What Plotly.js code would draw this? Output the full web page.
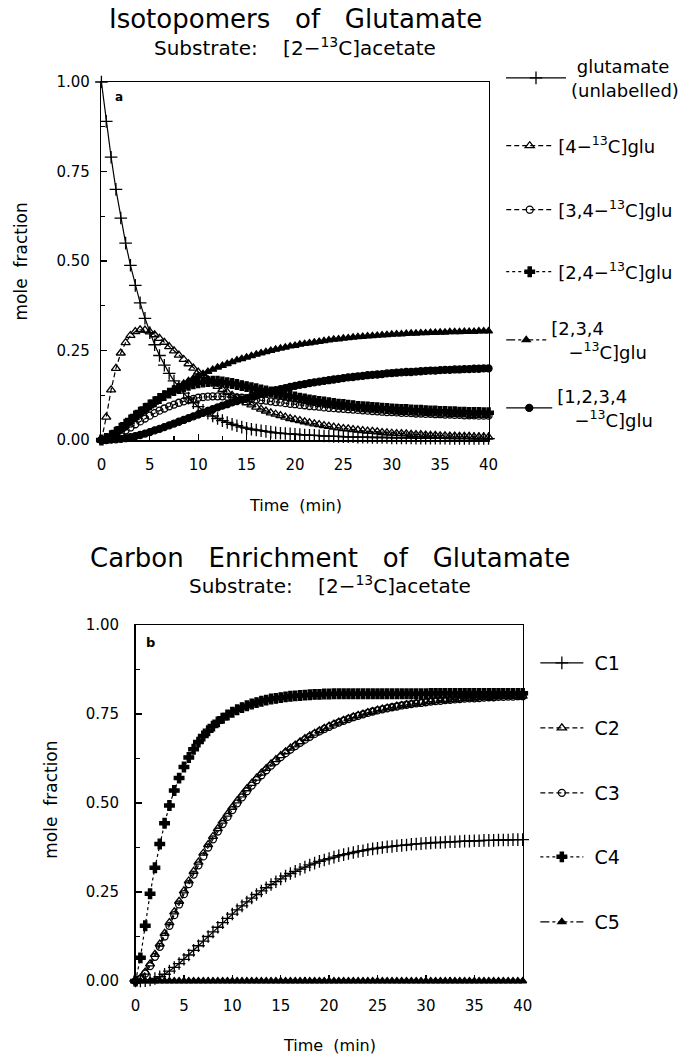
<!DOCTYPE html>
<html>
<head>
<meta charset="utf-8">
<script src="https://cdn.plot.ly/plotly-3.0.1.min.js"></script>
<style>
html,body{margin:0;padding:0;background:#fff;}
#plot{width:684px;height:1059px;}
</style>
</head>
<body>
<div id="plot"></div>
<script>
// ---------- DATA ----------
const timeMin = [0,0.5,1,1.5,2,2.5,3,3.5,4,4.5,5,5.5,6,6.5,7,7.5,8,8.5,9,9.5,10,10.5,11,11.5,12,12.5,13,13.5,14,14.5,15,15.5,16,16.5,17,17.5,18,18.5,19,19.5,20,20.5,21,21.5,22,22.5,23,23.5,24,24.5,25,25.5,26,26.5,27,27.5,28,28.5,29,29.5,30,30.5,31,31.5,32,32.5,33,33.5,34,34.5,35,35.5,36,36.5,37,37.5,38,38.5,39,39.5,40];

// Panel a: isotopomers (mole fraction)
const gluUnlabelled = [1.000,0.890,0.790,0.700,0.620,0.550,0.488,0.432,0.383,0.340,0.300,0.266,0.236,0.209,0.186,0.165,0.147,0.131,0.117,0.104,0.093,0.083,0.075,0.067,0.060,0.054,0.049,0.044,0.040,0.036,0.033,0.030,0.028,0.026,0.024,0.022,0.020,0.019,0.018,0.017,0.016,0.015,0.014,0.013,0.013,0.012,0.011,0.011,0.010,0.010,0.009,0.009,0.009,0.008,0.008,0.008,0.007,0.007,0.007,0.007,0.006,0.006,0.006,0.006,0.006,0.005,0.005,0.005,0.005,0.005,0.005,0.005,0.004,0.004,0.004,0.004,0.004,0.004,0.004,0.004,0.004];
const glu4 = [0,0.064,0.140,0.200,0.243,0.272,0.292,0.303,0.308,0.307,0.302,0.294,0.284,0.273,0.261,0.249,0.237,0.225,0.213,0.201,0.190,0.179,0.169,0.159,0.150,0.141,0.133,0.125,0.118,0.111,0.104,0.098,0.092,0.086,0.081,0.076,0.072,0.068,0.064,0.060,0.057,0.054,0.051,0.048,0.045,0.043,0.040,0.038,0.036,0.034,0.032,0.031,0.029,0.028,0.026,0.025,0.024,0.023,0.021,0.020,0.019,0.018,0.018,0.017,0.016,0.015,0.015,0.014,0.013,0.013,0.012,0.012,0.011,0.011,0.010,0.010,0.010,0.009,0.009,0.009,0.008];
const glu34 = [0,0.002,0.006,0.012,0.019,0.027,0.035,0.044,0.052,0.060,0.068,0.075,0.082,0.088,0.094,0.099,0.104,0.108,0.112,0.115,0.118,0.120,0.121,0.122,0.122,0.122,0.121,0.120,0.119,0.118,0.116,0.115,0.113,0.111,0.110,0.108,0.106,0.105,0.103,0.101,0.100,0.098,0.097,0.095,0.094,0.093,0.091,0.090,0.089,0.088,0.087,0.086,0.085,0.084,0.083,0.082,0.081,0.080,0.079,0.078,0.078,0.077,0.076,0.076,0.075,0.074,0.074,0.073,0.073,0.072,0.072,0.071,0.071,0.070,0.070,0.069,0.069,0.069,0.068,0.068,0.068];
const glu24 = [0,0.004,0.012,0.022,0.033,0.044,0.056,0.067,0.078,0.088,0.098,0.107,0.116,0.124,0.131,0.138,0.144,0.149,0.153,0.157,0.160,0.162,0.163,0.164,0.164,0.162,0.160,0.158,0.155,0.152,0.149,0.146,0.143,0.140,0.137,0.134,0.131,0.128,0.125,0.122,0.120,0.117,0.115,0.112,0.110,0.108,0.106,0.104,0.102,0.100,0.099,0.097,0.096,0.094,0.093,0.092,0.091,0.090,0.089,0.088,0.087,0.086,0.085,0.085,0.084,0.083,0.083,0.082,0.081,0.081,0.080,0.080,0.079,0.079,0.078,0.078,0.077,0.077,0.077,0.076,0.076];
const glu234 = [0,0.003,0.010,0.019,0.029,0.040,0.051,0.062,0.073,0.084,0.095,0.105,0.115,0.124,0.133,0.142,0.150,0.158,0.165,0.172,0.179,0.185,0.191,0.197,0.203,0.208,0.213,0.218,0.223,0.227,0.231,0.235,0.239,0.243,0.246,0.250,0.253,0.256,0.259,0.262,0.264,0.267,0.269,0.271,0.273,0.275,0.277,0.279,0.281,0.282,0.284,0.285,0.287,0.288,0.289,0.290,0.291,0.292,0.293,0.294,0.295,0.296,0.296,0.297,0.298,0.298,0.299,0.299,0.300,0.300,0.301,0.301,0.302,0.302,0.302,0.303,0.303,0.303,0.304,0.304,0.304];
const glu1234 = [0,0.000,0.001,0.002,0.003,0.005,0.008,0.011,0.014,0.018,0.022,0.027,0.031,0.036,0.041,0.046,0.051,0.056,0.061,0.066,0.071,0.076,0.081,0.086,0.091,0.096,0.100,0.105,0.109,0.113,0.117,0.121,0.125,0.129,0.132,0.136,0.139,0.142,0.145,0.148,0.151,0.154,0.156,0.159,0.161,0.163,0.165,0.167,0.169,0.171,0.173,0.175,0.176,0.178,0.179,0.181,0.182,0.183,0.184,0.186,0.187,0.188,0.189,0.190,0.190,0.191,0.192,0.193,0.194,0.194,0.195,0.196,0.196,0.197,0.197,0.198,0.198,0.199,0.199,0.200,0.200];

// Panel b: carbon enrichment (mole fraction)
const carbonC1 = [0,0.000,0.001,0.003,0.007,0.012,0.019,0.028,0.038,0.049,0.061,0.073,0.086,0.099,0.112,0.125,0.138,0.151,0.164,0.176,0.188,0.200,0.211,0.222,0.233,0.243,0.253,0.262,0.271,0.279,0.287,0.295,0.302,0.308,0.314,0.320,0.326,0.331,0.336,0.340,0.344,0.348,0.352,0.355,0.358,0.361,0.364,0.366,0.369,0.371,0.373,0.375,0.377,0.378,0.380,0.381,0.382,0.384,0.385,0.386,0.387,0.388,0.389,0.389,0.390,0.391,0.391,0.392,0.393,0.393,0.394,0.394,0.395,0.395,0.395,0.396,0.396,0.396,0.397,0.397,0.397];
const carbonC2 = [0,0.008,0.025,0.048,0.075,0.104,0.134,0.164,0.194,0.224,0.253,0.281,0.308,0.334,0.359,0.383,0.406,0.428,0.449,0.469,0.488,0.506,0.523,0.540,0.555,0.570,0.584,0.597,0.610,0.622,0.633,0.644,0.654,0.663,0.672,0.681,0.689,0.696,0.703,0.710,0.716,0.722,0.727,0.732,0.737,0.742,0.746,0.750,0.754,0.757,0.761,0.764,0.767,0.769,0.772,0.774,0.776,0.778,0.780,0.782,0.784,0.785,0.787,0.788,0.789,0.790,0.791,0.792,0.793,0.794,0.795,0.796,0.796,0.797,0.798,0.798,0.799,0.799,0.800,0.800,0.800];
const carbonC3 = [0,0.006,0.021,0.042,0.068,0.096,0.125,0.155,0.185,0.215,0.244,0.272,0.299,0.325,0.350,0.375,0.398,0.420,0.441,0.461,0.480,0.499,0.516,0.533,0.549,0.564,0.578,0.592,0.605,0.617,0.629,0.640,0.650,0.660,0.669,0.678,0.686,0.694,0.701,0.708,0.714,0.720,0.726,0.731,0.736,0.741,0.745,0.749,0.753,0.757,0.760,0.763,0.766,0.769,0.771,0.774,0.776,0.778,0.780,0.781,0.783,0.785,0.786,0.787,0.789,0.790,0.791,0.792,0.793,0.794,0.794,0.795,0.796,0.797,0.797,0.798,0.798,0.799,0.799,0.800,0.800];
const carbonC4 = [0,0.065,0.155,0.245,0.318,0.385,0.443,0.493,0.535,0.570,0.601,0.628,0.651,0.671,0.688,0.703,0.716,0.728,0.738,0.747,0.755,0.762,0.768,0.773,0.778,0.782,0.786,0.789,0.792,0.794,0.796,0.798,0.800,0.801,0.802,0.803,0.804,0.805,0.805,0.806,0.806,0.807,0.807,0.807,0.807,0.807,0.807,0.807,0.807,0.807,0.807,0.807,0.807,0.807,0.807,0.807,0.807,0.807,0.807,0.807,0.807,0.808,0.808,0.808,0.808,0.808,0.808,0.808,0.808,0.808,0.808,0.808,0.808,0.808,0.808,0.808,0.808,0.808,0.808,0.808,0.808];
const carbonC5 = [0,0,0,0,0,0,0,0,0,0,0,0,0,0,0,0,0,0,0,0,0,0,0,0,0,0,0,0,0,0,0,0,0,0,0,0,0,0,0,0,0,0,0,0,0,0,0,0,0,0,0,0,0,0,0,0,0,0,0,0,0,0,0,0,0,0,0,0,0,0,0,0,0,0,0,0,0,0,0,0,0];

const namesA = ["\u00a0glutamate<br>(unlabelled)", "[4−<sup>13</sup>C]glu", "[3,4−<sup>13</sup>C]glu", "[2,4−<sup>13</sup>C]glu", "[2,3,4<br>\u00a0\u00a0\u00a0−<sup>13</sup>C]glu", "[1,2,3,4<br>\u00a0\u00a0\u00a0−<sup>13</sup>C]glu"];
const namesB = ["\u00a0C1", "\u00a0C2", "\u00a0C3", "\u00a0C4", "\u00a0C5"];
const xTickLabels = ["0","5","10","15","20","25","30","35","40"];
const yTickLabels = ["0.00","0.25","0.50","0.75","1.00"];

// ---------- STYLES / LAYOUT ----------
const FONT = "DejaVu Sans, Verdana, sans-serif";
const styles = [
  {dash:"solid",   symbol:"cross-thin-open",   size:9},
  {dash:"5px,3px", symbol:"triangle-up-open",  size:8},
  {dash:"5px,3px", symbol:"circle-open",       size:7},
  {dash:"dot",     symbol:"cross",             size:8},
  {dash:"dashdot", symbol:"triangle-up",       size:7},
  {dash:"solid",   symbol:"circle",            size:7}
];
const W = 684, H = 1059;
const px = v => v / W;
const py = v => 1 - v / H;

// legend key placement (pixels): left x, symbol centre y, key width
const legA = [[514, 78, 60], [514, 146, 47], [514, 210, 47], [514, 272, 47], [514, 340, 40], [514, 408, 46]];
const legB = [[549, 663, 43], [549, 728, 43], [549, 793, 43], [549, 857, 43], [549, 922, 43]];

function mk(y, name, st, xa, ya, lg) {
  return {
    x: timeMin, y: y, name: name, type: "scatter", mode: "lines+markers",
    xaxis: xa, yaxis: ya, legend: lg,
    cliponaxis: false,
    line: {color: "#000", width: 1.2, dash: st.dash},
    marker: {symbol: st.symbol, size: st.size, color: "#000",
             line: {color: "#000", width: 1.3}}
  };
}
const legendId = i => (i === 0 ? "legend" : "legend" + (i + 1));

const seriesA = [gluUnlabelled, glu4, glu34, glu24, glu234, glu1234];
const seriesB = [carbonC1, carbonC2, carbonC3, carbonC4, carbonC5];
const traces = [];
seriesA.forEach((s, i) => traces.push(mk(s, namesA[i], styles[i], "x", "y", legendId(i))));
seriesB.forEach((s, i) => traces.push(mk(s, namesB[i], styles[i], "x2", "y2", legendId(i + 6))));

function xAx(d, anchor) {
  return {
    domain: d, anchor: anchor, range: [0, 40],
    tickmode: "array", tickvals: xTickLabels.map(Number), ticktext: xTickLabels,
    ticks: "inside", ticklen: 6, tickwidth: 1.3, tickcolor: "#000",
    minor: {dtick: 2.5, tick0: 0, ticks: "inside", ticklen: 4, tickwidth: 1.2, tickcolor: "#000", showgrid: false},
    showline: true, mirror: true, linecolor: "#000", linewidth: 1.5,
    showgrid: false, zeroline: false, ticklabelstandoff: 10,
    tickfont: {family: FONT, size: 15, color: "#000"}
  };
}
function yAx(d, anchor, standoff) {
  return {
    domain: d, anchor: anchor, range: [0, 1],
    tickmode: "array", tickvals: yTickLabels.map(Number), ticktext: yTickLabels,
    ticks: "inside", ticklen: 6, tickwidth: 1.3, tickcolor: "#000",
    minor: {dtick: 0.125, tick0: 0, ticks: "inside", ticklen: 4, tickwidth: 1.2, tickcolor: "#000", showgrid: false},
    showline: true, mirror: true, linecolor: "#000", linewidth: 1.5,
    showgrid: false, zeroline: false, ticklabelstandoff: standoff,
    tickfont: {family: FONT, size: 15, color: "#000"}
  };
}
const ann = (text, x, y, size, extra) => Object.assign({
  text: text, x: x, y: y, xref: "paper", yref: "paper", showarrow: false,
  xanchor: "center", yanchor: "middle", font: {family: FONT, size: size, color: "#000"}
}, extra || {});

const layout = {
  width: W, height: H, margin: {l: 0, r: 0, t: 0, b: 0, pad: 0},
  paper_bgcolor: "#fff", plot_bgcolor: "#fff", showlegend: true,
  font: {family: FONT, color: "#000"},
  xaxis: xAx([px(104), px(501)], "y"),
  yaxis: yAx([py(440), py(82)], "x", 7),
  xaxis2: xAx([px(139), px(536)], "y2"),
  yaxis2: yAx([py(981), py(625)], "x2", 12),
  annotations: [
    ann("Isotopomers\u00a0\u00a0\u00a0of\u00a0\u00a0\u00a0Glutamate", px(303), py(19), 26),
    ann("Substrate:\u00a0\u00a0\u00a0\u00a0[2−<sup>13</sup>C]acetate", px(303), py(47), 20),
    ann("Time\u00a0\u00a0(min)", px(303), py(506), 16),
    ann("mole\u00a0\u00a0fraction", px(22), py(261), 17, {textangle: -90}),
    ann("<b>a</b>", px(122), py(97), 12),
    ann("Carbon\u00a0\u00a0\u00a0Enrichment\u00a0\u00a0\u00a0of\u00a0\u00a0\u00a0Glutamate", px(338), py(558), 26),
    ann("Substrate:\u00a0\u00a0\u00a0\u00a0[2−<sup>13</sup>C]acetate", px(338), py(585), 20),
    ann("Time\u00a0\u00a0(min)", px(338), py(1045), 16),
    ann("mole\u00a0\u00a0fraction", px(52), py(800), 17, {textangle: -90}),
    ann("<b>b</b>", px(154), py(642), 13)
  ]
};
const legBase = {
  font: {family: FONT, size: 18, color: "#000"}, bgcolor: "rgba(0,0,0,0)",
  yanchor: "middle", xanchor: "left", valign: "middle",
  itemclick: false, itemdoubleclick: false
};
legA.forEach((p, i) => {
  layout[legendId(i)] = Object.assign({}, legBase, {x: px(p[0]), y: py(p[1]), itemwidth: p[2]});
});
legB.forEach((p, i) => {
  layout[legendId(i + 6)] = Object.assign({}, legBase, {x: px(p[0]), y: py(p[1]), itemwidth: p[2], font: {family: FONT, size: 19, color: "#000"}});
});

Plotly.newPlot("plot", traces, layout, {staticPlot: true, displayModeBar: false});
</script>
</body>
</html>
